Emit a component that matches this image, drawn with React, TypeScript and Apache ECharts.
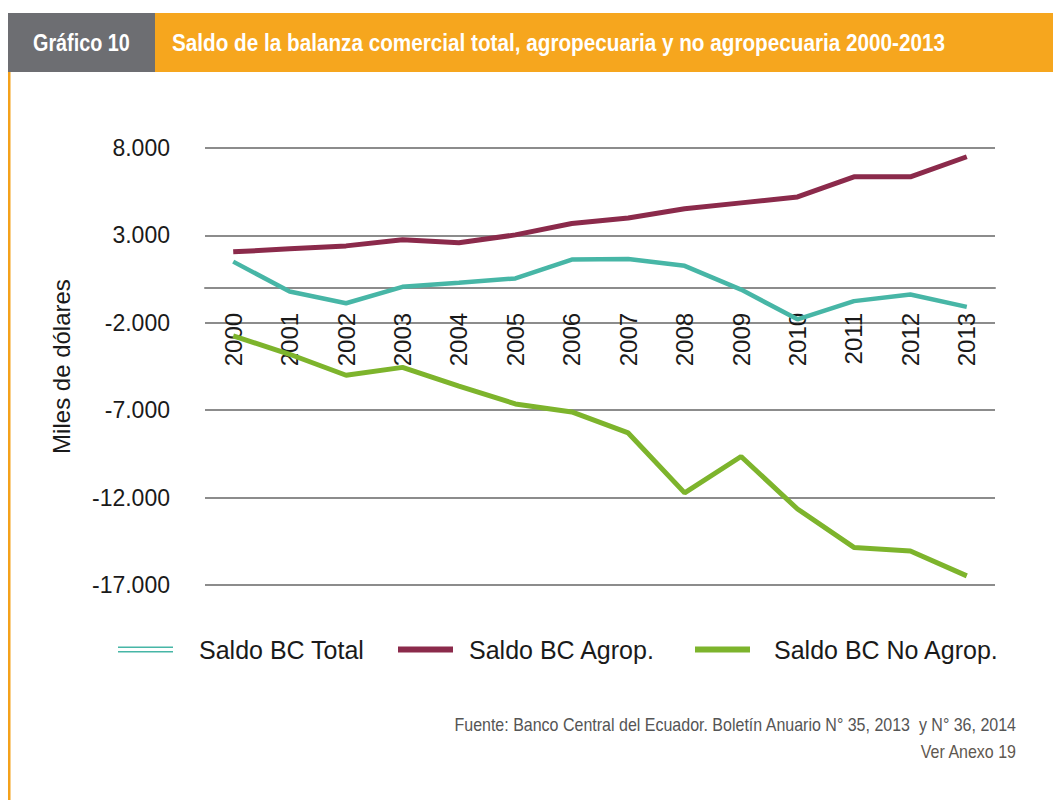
import React, { useEffect, useRef } from "react";
import * as echarts from "echarts";

const years = ["2000","2001","2002","2003","2004","2005","2006","2007","2008","2009","2010","2011","2012","2013"];
const saldoTotal = [1500, -210, -880, 60, 290, 540, 1620, 1650, 1260, -100, -1800, -760, -380, -1090];
const saldoAgrop = [2060, 2230, 2400, 2750, 2580, 3030, 3680, 4000, 4520, 4860, 5200, 6350, 6350, 7500];
const saldoNoAgrop = [-2750, -3800, -5000, -4550, -5620, -6640, -7100, -8300, -11730, -9650, -12650, -14850, -15050, -16480];
const yMin = -17000;
const yMax = 8000;
const yStep = 5000;

const fmt = (v: number) => {
  const s = Math.abs(v).toString().replace(/\B(?=(\d{3})+(?!\d))/g, ".");
  return (v < 0 ? "-" : "") + s;
};

export default function App() {
  const ref = useRef<HTMLDivElement>(null);
  useEffect(() => {
    if (!ref.current) return;
    const chart = echarts.init(ref.current, null, { renderer: "svg" });
    const font = '"Liberation Sans", Arial, Helvetica, sans-serif';
    const gridTop = 148;
    const gridBottom = 215;
    const plotH = 800 - gridTop - gridBottom;
    const zeroOffset = -(plotH * (0 - yMin)) / (yMax - yMin);
    const legendBase = {
      top: 637,
      padding: 0,
      itemWidth: 55,
      itemHeight: 6,
      textStyle: { fontSize: 25, color: "#1a1a1a", fontFamily: font },
    };
    chart.setOption({
      animation: false,
      backgroundColor: "#ffffff",
      grid: { left: 205, right: 58, top: gridTop, bottom: gridBottom },
      xAxis: {
        type: "category",
        data: years,
        boundaryGap: true,
        offset: zeroOffset,
        axisLine: { onZero: false, lineStyle: { color: "#8c8c8c", width: 2 } },
        axisTick: { show: false },
        axisLabel: { rotate: 90, fontSize: 24, color: "#1a1a1a", fontFamily: font, margin: 25 },
      },
      yAxis: {
        type: "value",
        min: yMin,
        max: yMax,
        interval: yStep,
        name: "Miles de dólares",
        nameLocation: "middle",
        nameGap: 132,
        nameTextStyle: { fontSize: 24, color: "#1a1a1a", fontFamily: font },
        axisLine: { show: false },
        axisTick: { show: false },
        axisLabel: { fontSize: 23, color: "#1a1a1a", fontFamily: font, margin: 35, formatter: fmt },
        splitLine: { lineStyle: { color: "#8c8c8c", width: 2 } },
      },
      legend: [
        {
          ...legendBase,
          left: 118,
          data: [{ name: "Saldo BC Total", icon: "path://M0,0H55V1.6H0Z M0,4.4H55V6H0Z" }],
          textStyle: { ...legendBase.textStyle, padding: [0, 0, 0, 21] },
        },
        {
          ...legendBase,
          left: 398,
          data: [{ name: "Saldo BC Agrop.", icon: "rect" }],
          textStyle: { ...legendBase.textStyle, padding: [0, 0, 0, 11] },
        },
        {
          ...legendBase,
          left: 695,
          data: [{ name: "Saldo BC No Agrop.", icon: "rect" }],
          textStyle: { ...legendBase.textStyle, padding: [0, 0, 0, 19] },
        },
      ],
      series: [
        {
          name: "Saldo BC Total",
          type: "line",
          data: saldoTotal,
          symbol: "none",
          color: "#47b6a6",
          lineStyle: { width: 4.5, color: "#47b6a6" },
        },
        {
          name: "Saldo BC Agrop.",
          type: "line",
          data: saldoAgrop,
          symbol: "none",
          color: "#8b2a4b",
          lineStyle: { width: 5, color: "#8b2a4b" },
        },
        {
          name: "Saldo BC No Agrop.",
          type: "line",
          data: saldoNoAgrop,
          symbol: "none",
          color: "#7db42c",
          lineStyle: { width: 5, color: "#7db42c" },
        },
      ],
      graphic: [
        { type: "rect", shape: { x: 8, y: 13, width: 147, height: 59 }, style: { fill: "#6d6e72" } },
        { type: "rect", shape: { x: 155, y: 13, width: 898, height: 59 }, style: { fill: "#f6a61e" } },
        { type: "rect", shape: { x: 8, y: 72, width: 2.5, height: 728 }, style: { fill: "#f4a11b" } },
        {
          type: "text",
          x: 33,
          y: 43,
          scaleX: 0.86,
          style: { text: "Gráfico 10", fill: "#ffffff", font: 'bold 23px "Liberation Sans", Arial, sans-serif', align: "left", verticalAlign: "middle" },
        },
        {
          type: "text",
          x: 172,
          y: 43,
          scaleX: 0.9,
          style: {
            text: "Saldo de la balanza comercial total, agropecuaria y no agropecuaria 2000-2013",
            fill: "#ffffff",
            font: 'bold 23px "Liberation Sans", Arial, sans-serif',
            align: "left",
            verticalAlign: "middle",
          },
        },
        {
          type: "text",
          x: 1016,
          y: 725,
          scaleX: 0.89,
          style: {
            text: "Fuente: Banco Central del Ecuador. Boletín Anuario N° 35, 2013  y N° 36, 2014",
            fill: "#555555",
            font: '18px "Liberation Sans", Arial, sans-serif',
            align: "right",
            verticalAlign: "middle",
          },
        },
        {
          type: "text",
          x: 1016,
          y: 752,
          scaleX: 0.89,
          style: { text: "Ver Anexo 19", fill: "#5f5850", font: '18px "Liberation Sans", Arial, sans-serif', align: "right", verticalAlign: "middle" },
        },
      ],
    });
    return () => chart.dispose();
  }, []);
  return <div ref={ref} style={{ position: "absolute", left: 0, top: 0, width: 1053, height: 800 }} />;
}
